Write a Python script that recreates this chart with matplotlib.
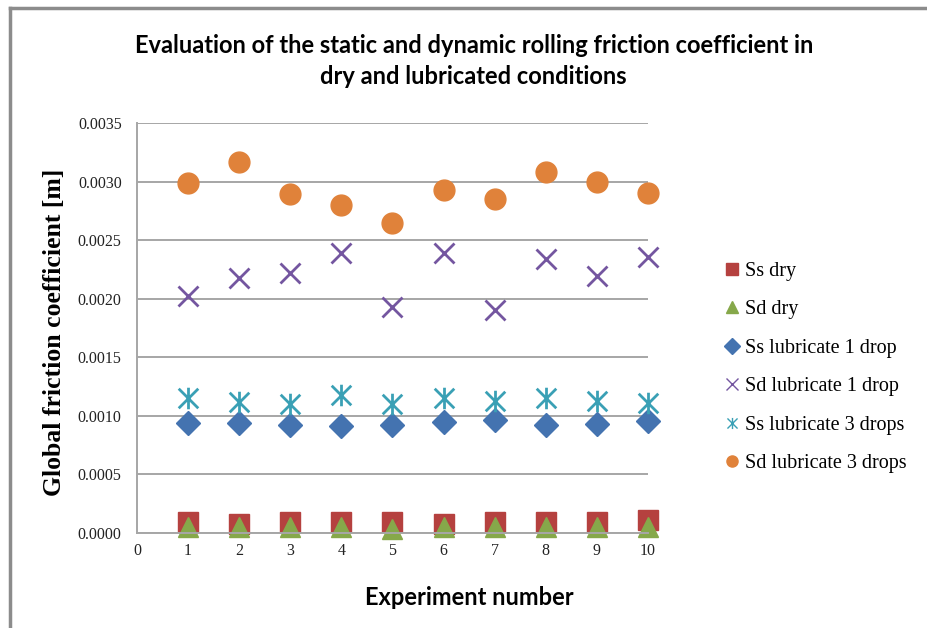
"""Static and dynamic rolling friction coefficient, dry vs lubricated."""

import matplotlib
matplotlib.use("Agg")
import matplotlib.pyplot as plt
from matplotlib.lines import Line2D
from matplotlib.path import Path

experiments = [1, 2, 3, 4, 5, 6, 7, 8, 9, 10]

ss_dry = [0.00009, 0.00008, 0.00009, 0.00009, 0.00009, 0.00008, 0.00009, 0.00009, 0.00009, 0.00011]
sd_dry = [0.00005, 0.00005, 0.00005, 0.00005, 0.00003, 0.00005, 0.00005, 0.00005, 0.00005, 0.00005]
ss_lub1 = [0.000935, 0.00094, 0.00092, 0.000913, 0.00092, 0.00095, 0.000965, 0.00092, 0.00093, 0.00096]
sd_lub1 = [0.00202, 0.00218, 0.00222, 0.00239, 0.00193, 0.00239, 0.00190, 0.00234, 0.00219, 0.00236]
ss_lub3 = [0.001155, 0.00112, 0.00110, 0.00118, 0.00110, 0.00115, 0.00113, 0.00115, 0.00113, 0.00111]
sd_lub3 = [0.00299, 0.00317, 0.00289, 0.00280, 0.00265, 0.00293, 0.00285, 0.00308, 0.00300, 0.00290]

y_ticks = [0.0, 0.0005, 0.0010, 0.0015, 0.0020, 0.0025, 0.0030, 0.0035]
x_ticks = [0, 1, 2, 3, 4, 5, 6, 7, 8, 9, 10]

# Excel-style asterisk: an x with a vertical bar through it
asterisk = Path(
    [(-1, -1), (1, 1), (-1, 1), (1, -1), (0, -1.1), (0, 1.1)],
    [Path.MOVETO, Path.LINETO, Path.MOVETO, Path.LINETO, Path.MOVETO, Path.LINETO],
)

series = [
    ("Ss dry", ss_dry, dict(marker="s", color="#B5413F", markersize=14.5)),
    ("Sd dry", sd_dry, dict(marker="^", color="#86A84A", markersize=14.5)),
    ("Ss lubricate 1 drop", ss_lub1, dict(marker="D", color="#4473B0", markersize=12.5)),
    ("Sd lubricate 1 drop", sd_lub1, dict(marker="x", color="#7456A0", markersize=14.5,
                                          markeredgewidth=2.0)),
    ("Ss lubricate 3 drops", ss_lub3, dict(marker=asterisk, color="#3AA0B5", markersize=15.5,
                                           markeredgewidth=2.0)),
    ("Sd lubricate 3 drops", sd_lub3, dict(marker="o", color="#E0823A", markersize=15)),
]

fig = plt.figure(figsize=(9.27, 6.28), dpi=100)
ax = fig.add_axes([0.1478, 0.1513, 0.5512, 0.6528])

for label, values, style in series:
    ax.plot(experiments, values, linestyle="none", label=label, clip_on=False, **style)

ax.set_xlim(0, 10)
ax.set_ylim(0, 0.0035)
ax.set_xticks(x_ticks)
ax.set_yticks(y_ticks)
ax.set_yticklabels([f"{v:.4f}" for v in y_ticks])
ax.tick_params(length=0, labelsize=11.5, colors="#222222")
ax.tick_params(axis="y", pad=11)
ax.tick_params(axis="x", pad=7)
for lab in ax.get_xticklabels() + ax.get_yticklabels():
    lab.set_family("Liberation Serif")

ax.grid(axis="y", color="#a6a6a6", linewidth=1.4)
ax.set_axisbelow(True)
for side in ("top", "right"):
    ax.spines[side].set_visible(False)
for side in ("left", "bottom"):
    ax.spines[side].set_color("#a6a6a6")
    ax.spines[side].set_linewidth(1.4)

fig.text(0.511, 0.903, "Evaluation of the static and dynamic rolling friction coefficient in\n"
         "dry and lubricated conditions", ha="center", va="center",
         family="Lato", weight="bold", fontsize=17, linespacing=1.38)
fig.text(0.059, 0.471, "Global friction coefficient [m]", rotation=90, ha="center",
         va="center", family="Liberation Serif", weight="bold", fontsize=18.5)
fig.text(0.506, 0.049, "Experiment number", ha="center", va="center",
         family="Lato", weight="bold", fontsize=17)

handles = [
    Line2D([], [], linestyle="none", marker=s["marker"], color=s["color"], markersize=8,
           markeredgewidth=1.0)
    for _, _, s in series
]
fig.legend(handles, [name for name, _, _ in series], loc="upper left",
           bbox_to_anchor=(0.762, 0.612), frameon=False, handlelength=0.7,
           handletextpad=0.3, labelspacing=0.96, prop={"family": "Liberation Serif", "size": 14.5})

# chart border (top and left edges visible in the crop)
fig.add_artist(Line2D([0.0108, 1.0], [0.9873, 0.9873], color="#8c8c8c", linewidth=2.5))
fig.add_artist(Line2D([0.0108, 0.0108], [0.0, 0.9873], color="#8c8c8c", linewidth=2.5))

fig.savefig("out.png", dpi=100)
